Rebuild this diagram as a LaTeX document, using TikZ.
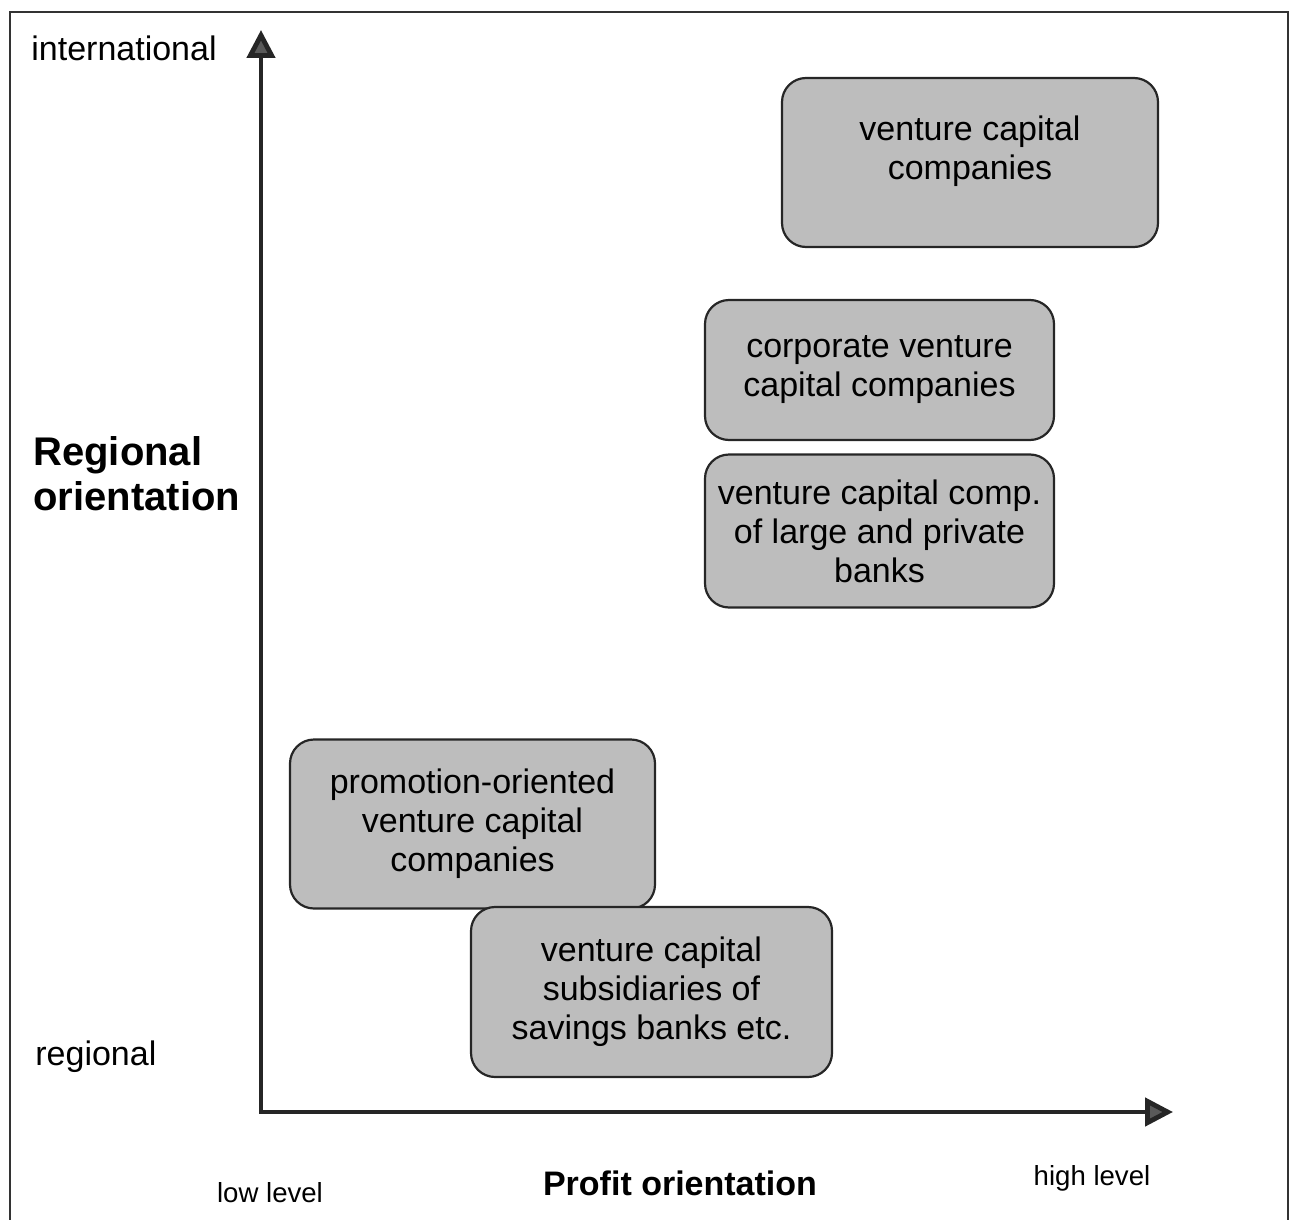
\documentclass[tikz,border=0pt]{standalone}
\usepackage{fontspec}
\setmainfont{Liberation Sans}
\usetikzlibrary{arrows.meta}
\definecolor{boxfill}{HTML}{BDBDBD}
\definecolor{tipfill}{HTML}{5A5A5A}
\tikzset{
  catbox/.style={draw=black!85, line width=1.1pt, fill=boxfill, rounded corners=12pt,
    align=center, font=\fontsize{17}{19.5}\selectfont, inner sep=0pt, anchor=center},
  axislabel/.style={font=\fontsize{17}{20}\selectfont, inner sep=0pt},
  levellabel/.style={font=\fontsize{13.8}{16}\selectfont, inner sep=0pt},
  axis/.style={line width=2.4pt, black!85, line join=miter,
    arrows={Triangle[length=14pt,width=14pt,fill=tipfill]-Triangle[length=14pt,width=14pt,fill=tipfill]}},
}
\begin{document}
\begin{tikzpicture}[x=0.5pt,y=-0.5pt]
\useasboundingbox (0,0) rectangle (1290,1220);
% frame (bottom edge cut off)
\draw[line width=0.8pt, black!80] (1288,1225) -- (1288,12) -- (10,12) -- (10,1225);
% axes
\coordinate (ytip) at (261,30);
\coordinate (origin) at (261,1112);
\coordinate (xtip) at (1173,1112);
\draw[axis] (ytip) -- (origin) -- (xtip);
% axis labels
\node[axislabel, anchor=west] (intl) at (31,48) {international};
\node[axislabel, anchor=west] (reg) at (35,1057) {regional};
\node[anchor=west, align=left, inner sep=0pt, font=\fontsize{20}{22.5}\bfseries\selectfont] (regor) at (33,474) {Regional\\orientation};
\node[levellabel] (low) at (270,1193) {low level};
\node[levellabel] (high) at (1092,1178) {high level};
\node[inner sep=0pt, font=\fontsize{17}{20}\bfseries\selectfont] (profit) at (680,1183) {Profit orientation};
% boxes
\node[catbox, minimum width=188pt, minimum height=84.5pt, text depth=14.5pt] (vcc) at (970,162.5) {venture capital\\companies};
\node[catbox, minimum width=174.5pt, minimum height=70pt] (cvcc) at (879.5,370) {corporate venture\\capital companies};
\node[catbox, minimum width=174.5pt, minimum height=76.5pt] (bank) at (879.5,531) {venture capital comp.\\of large and private\\banks};
\node[catbox, minimum width=182.5pt, minimum height=84.5pt] (promo) at (472.5,824) {promotion-oriented\\venture capital\\companies};
\node[catbox, minimum width=180.5pt, minimum height=85pt] (sav) at (651.5,992) {venture capital\\subsidiaries of\\savings banks etc.};
\end{tikzpicture}
\end{document}
